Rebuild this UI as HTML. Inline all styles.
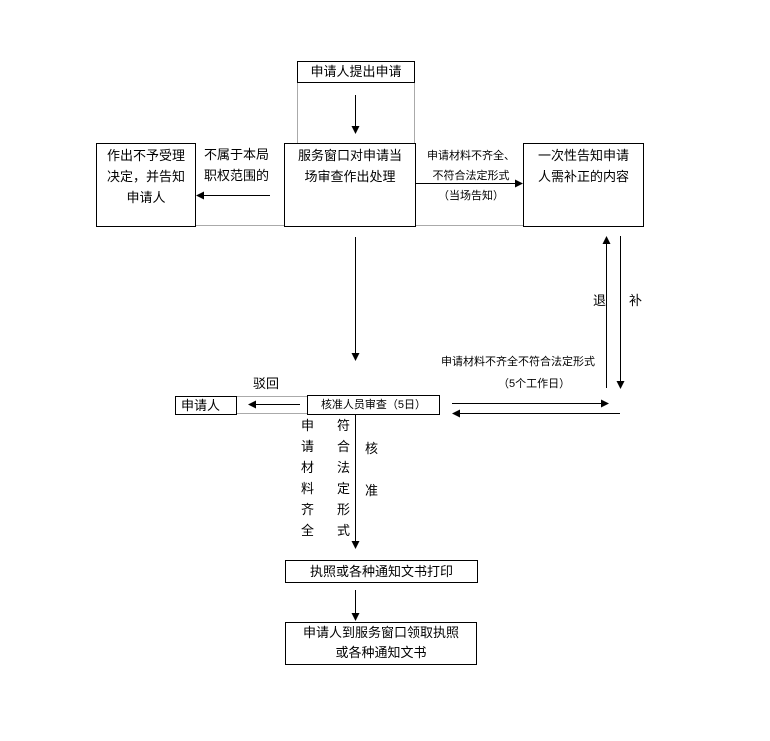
<!DOCTYPE html>
<html><head><meta charset="utf-8"><style>
body{margin:0;background:#fff;}
#c{position:relative;width:770px;height:741px;overflow:hidden;font-family:"Liberation Sans","Noto Sans CJK SC",sans-serif;color:#000;}
.b{position:absolute;border:1px solid #000;box-sizing:border-box;font-size:13px;line-height:21px;}
.t{position:absolute;font-size:13px;line-height:21px;white-space:nowrap;}
.s{font-size:11px;}
</style></head><body><div id="c">
<svg width="770" height="741" style="position:absolute;left:0;top:0">
<defs><marker id="a" markerWidth="8" markerHeight="8" refX="7" refY="4" orient="auto" markerUnits="userSpaceOnUse"><path d="M0,0 L8,4 L0,8z" fill="#000"/></marker></defs>
<g stroke="#aaa" stroke-width="1" fill="none">
<path d="M297.5,82 V143 M414.5,82 V143"/>
<path d="M195,225.5 H284 M415,225.5 H523"/>
<path d="M236,396.5 H307 M236,413.5 H307"/>
</g>
<g stroke="#000" stroke-width="1" fill="none">
<path d="M355.5,95 V133" marker-end="url(#a)"/>
<path d="M270,195.5 H197" marker-end="url(#a)"/>
<path d="M415,183.5 H522" marker-end="url(#a)"/>
<path d="M355.5,237 V360" marker-end="url(#a)"/>
<path d="M606.5,388 V237" marker-end="url(#a)"/>
<path d="M620.5,236 V388" marker-end="url(#a)"/>
<path d="M452,403.5 H608" marker-end="url(#a)"/>
<path d="M620,413.5 H453" marker-end="url(#a)"/>
<path d="M300,404.5 H249" marker-end="url(#a)"/>
<path d="M355.5,415 V548" marker-end="url(#a)"/>
<path d="M355.5,590 V620" marker-end="url(#a)"/>
</g>
</svg>
<div class="b" style="left:297px;top:61px;width:118px;height:22px;text-align:center;line-height:20px">申请人提出申请</div>
<div class="b" style="left:96px;top:143px;width:100px;height:84px;text-align:center;padding-top:1px">作出不予受理<br>决定，并告知<br>申请人</div>
<div class="t" style="left:204px;top:144px">不属于本局<br>职权范围的</div>
<div class="b" style="left:284px;top:143px;width:132px;height:84px;text-align:center;padding-top:1px">服务窗口对申请当<br>场审查作出处理</div>
<div class="t s" style="left:419px;top:146px;width:104px;text-align:center;line-height:20px">申请材料不齐全、<br>不符合法定形式<br>（当场告知）</div>
<div class="b" style="left:523px;top:143px;width:121px;height:84px;text-align:center;padding-top:1px">一次性告知申请<br>人需补正的内容</div>
<div class="t" style="left:593px;top:290px">退</div>
<div class="t" style="left:629px;top:290px">补</div>
<div class="t s" style="left:441px;top:352px">申请材料不齐全不符合法定形式</div>
<div class="t s" style="left:498px;top:374px">（5个工作日）</div>
<div class="t" style="left:253px;top:373px">驳回</div>
<div class="b" style="left:175px;top:396px;width:62px;height:19px;line-height:17px;padding-left:5px">申请人</div>
<div class="b s" style="left:307px;top:395px;width:133px;height:20px;line-height:18px;text-align:center">核准人员审查（5日）</div>
<div class="t" style="left:301px;top:415px">申<br>请<br>材<br>料<br>齐<br>全</div>
<div class="t" style="left:337px;top:415px">符<br>合<br>法<br>定<br>形<br>式</div>
<div class="t" style="left:365px;top:428px;line-height:42px">核<br>准</div>
<div class="b" style="left:285px;top:560px;width:193px;height:23px;text-align:center;line-height:21px">执照或各种通知文书打印</div>
<div class="b" style="left:285px;top:622px;width:192px;height:43px;text-align:center;line-height:20px">申请人到服务窗口领取执照<br>或各种通知文书</div>
</div></body></html>
